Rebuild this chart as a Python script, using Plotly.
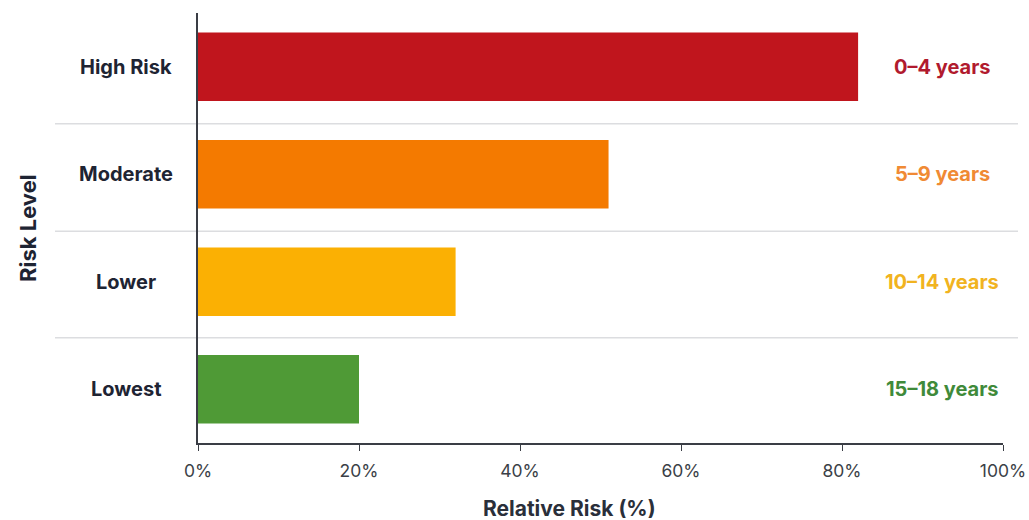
import plotly.graph_objects as go

categories = ["Lowest", "Lower", "Moderate", "High Risk"]
relative_risk = [20, 32, 51, 82]
age_labels = ["15–18 years", "10–14 years", "5–9 years", "0–4 years"]
bar_colors = ["#4f9a36", "#fbb003", "#f47a00", "#c0151d"]
label_colors = ["#3f8a3a", "#f1b320", "#f08a34", "#b11a2e"]
tick_vals = [0, 20, 40, 60, 80, 100]
tick_text = ["0%", "20%", "40%", "60%", "80%", "100%"]

W, H = 1029, 520
L, R, T, B = 198, 26, 13, 77
pw = W - L - R
FONT = "Inter, Roboto, sans-serif"

fig = go.Figure()
fig.add_trace(go.Bar(
    x=relative_risk, y=categories, orientation="h",
    marker=dict(color=bar_colors, line=dict(width=0)),
    width=0.635, hoverinfo="skip", showlegend=False,
))

annotations = []
for i, (cat, lab, col) in enumerate(zip(categories, age_labels, label_colors)):
    annotations.append(dict(
        x=(126 - L) / pw, xref="paper", y=i, yref="y", text=f"<b>{cat}</b>",
        showarrow=False, xanchor="center", yanchor="middle",
        font=dict(family=FONT, size=20, color="#1e2433")))
    annotations.append(dict(
        x=(942 - L) / pw, xref="paper", y=i, yref="y", text=f"<b>{lab}</b>",
        showarrow=False, xanchor="center", yanchor="middle",
        font=dict(family=FONT, size=20, color=col)))

annotations.append(dict(
    x=(28 - L) / pw, xref="paper", y=0.5, yref="paper", text="<b>Risk Level</b>",
    textangle=-90, showarrow=False, xanchor="center", yanchor="middle",
    font=dict(family=FONT, size=22, color="#1e2433")))
annotations.append(dict(
    x=(569 - L) / pw, xref="paper", y=-(508 - (H - B)) / (H - T - B), yref="paper",
    text="<b>Relative Risk (%)</b>", showarrow=False, xanchor="center", yanchor="middle",
    font=dict(family=FONT, size=21, color="#2a2f3a")))

shapes = []
for yv in [0.48, 1.47, 2.47]:
    shapes.append(dict(
        type="line", xref="paper", yref="y",
        x0=(55 - L) / pw, x1=(1018 - L) / pw, y0=yv, y1=yv,
        line=dict(color="#dcdde0", width=1.5), layer="below"))

fig.update_layout(
    template="none",
    width=W, height=H, autosize=False,
    margin=dict(l=L, r=R, t=T, b=B, autoexpand=False),
    paper_bgcolor="white", plot_bgcolor="white",
    bargap=0.37,
    xaxis=dict(
        range=[0, 100], tickvals=tick_vals, ticktext=tick_text,
        showgrid=False, zeroline=False, automargin=False,
        showline=True, linecolor="#3a3d45", linewidth=1.5,
        ticks="outside", ticklen=6, tickcolor="#3a3d45", tickwidth=1.2,
        ticklabelstandoff=5, ticklabeloverflow="allow",
        tickfont=dict(family=FONT, size=17.5, color="#3b3f47"),
        fixedrange=True,
    ),
    yaxis=dict(
        range=[-0.5, 3.5], showgrid=False, zeroline=False, automargin=False,
        showline=True, linecolor="#3a3d45", linewidth=1.5,
        showticklabels=False, ticks="",
        fixedrange=True,
    ),
    annotations=annotations,
    shapes=shapes,
)

fig.write_html("out.html")
